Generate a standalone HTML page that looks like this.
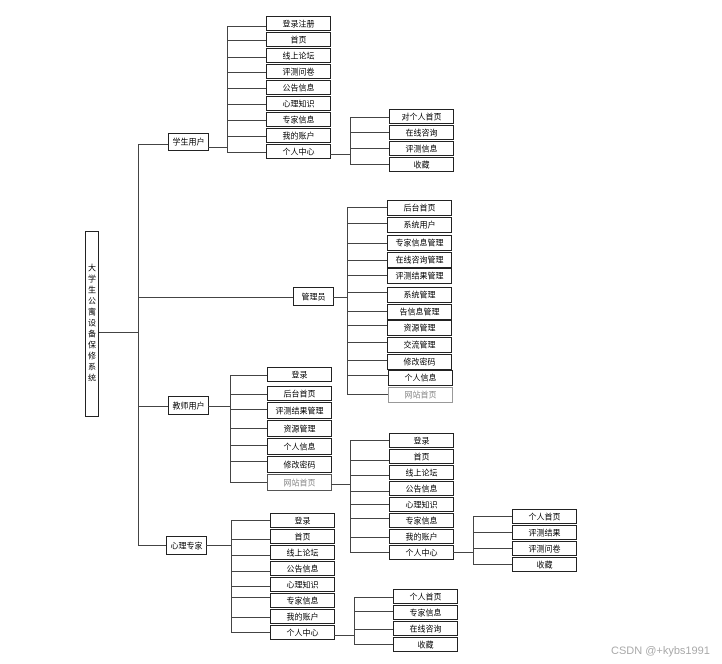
<!DOCTYPE html>
<html><head><meta charset="utf-8"><style>
html,body{margin:0;padding:0;background:#fff;}
svg{display:block;}
text{font-family:"Liberation Sans","Noto Sans CJK SC",sans-serif;font-size:8px;fill:#000;text-anchor:middle;dominant-baseline:central;}
rect{fill:#fff;stroke:#222;stroke-width:1;}
line,polyline{stroke:#444;stroke-width:1;fill:none;}
.g{fill:#888;}
.wm{font-size:11px;fill:#aaa;text-anchor:start;}
</style></head><body>
<svg width="722" height="664" viewBox="0 0 722 664" xmlns="http://www.w3.org/2000/svg">
<!-- root -->
<rect x="85.5" y="231.5" width="13" height="185"/>
<g>
<text x="92" y="268">大</text><text x="92" y="279">学</text><text x="92" y="290">生</text><text x="92" y="301">公</text><text x="92" y="312">寓</text><text x="92" y="323">设</text><text x="92" y="334">备</text><text x="92" y="345">保</text><text x="92" y="356">修</text><text x="92" y="367">系</text><text x="92" y="378">统</text>
</g>
<line x1="99" y1="332.5" x2="138" y2="332.5"/>
<line x1="138.5" y1="144" x2="138.5" y2="545"/>
<line x1="138" y1="144.5" x2="168" y2="144.5"/>
<line x1="138" y1="297.5" x2="293" y2="297.5"/>
<line x1="138" y1="406.5" x2="168" y2="406.5"/>
<line x1="138" y1="545.5" x2="166" y2="545.5"/>

<!-- student -->
<rect x="168.5" y="133.5" width="40" height="17"/><text x="188.5" y="142">学生用户</text>
<line x1="208" y1="147.5" x2="227" y2="147.5"/>
<line x1="227.5" y1="26" x2="227.5" y2="153"/>
<g>
<line x1="227" y1="26.5" x2="266" y2="26.5"/><line x1="227" y1="40.5" x2="266" y2="40.5"/><line x1="227" y1="57.5" x2="266" y2="57.5"/><line x1="227" y1="72.5" x2="266" y2="72.5"/><line x1="227" y1="88.5" x2="266" y2="88.5"/><line x1="227" y1="104.5" x2="266" y2="104.5"/><line x1="227" y1="120.5" x2="266" y2="120.5"/><line x1="227" y1="136.5" x2="266" y2="136.5"/><line x1="227" y1="152.5" x2="266" y2="152.5"/>
</g>
<rect x="266.5" y="16.5" width="64" height="14"/><text x="298.5" y="24">登录注册</text>
<rect x="266.5" y="32.5" width="64" height="14"/><text x="298.5" y="40">首页</text>
<rect x="266.5" y="48.5" width="64" height="14"/><text x="298.5" y="56">线上论坛</text>
<rect x="266.5" y="64.5" width="64" height="14"/><text x="298.5" y="72">评测问卷</text>
<rect x="266.5" y="80.5" width="64" height="14"/><text x="298.5" y="88">公告信息</text>
<rect x="266.5" y="96.5" width="64" height="14"/><text x="298.5" y="104">心理知识</text>
<rect x="266.5" y="112.5" width="64" height="14"/><text x="298.5" y="120">专家信息</text>
<rect x="266.5" y="128.5" width="64" height="14"/><text x="298.5" y="136">我的账户</text>
<rect x="266.5" y="144.5" width="64" height="14"/><text x="298.5" y="152">个人中心</text>
<line x1="330" y1="154.5" x2="350" y2="154.5"/>
<line x1="350.5" y1="117" x2="350.5" y2="165"/>
<line x1="350" y1="117.5" x2="389" y2="117.5"/><line x1="350" y1="132.5" x2="389" y2="132.5"/><line x1="350" y1="148.5" x2="389" y2="148.5"/><line x1="350" y1="164.5" x2="389" y2="164.5"/>
<rect x="389.5" y="109.5" width="64" height="14"/><text x="421.5" y="117">对个人首页</text>
<rect x="389.5" y="125.5" width="64" height="14"/><text x="421.5" y="133">在线咨询</text>
<rect x="389.5" y="141.5" width="64" height="14"/><text x="421.5" y="149">评测信息</text>
<rect x="389.5" y="157.5" width="64" height="14"/><text x="421.5" y="165">收藏</text>

<!-- admin -->
<rect x="293.5" y="287.5" width="40" height="18"/><text x="313.5" y="297">管理员</text>
<line x1="333" y1="297.5" x2="347" y2="297.5"/>
<line x1="347.5" y1="207" x2="347.5" y2="395"/>
<g>
<line x1="347" y1="207.5" x2="387" y2="207.5"/><line x1="347" y1="223.5" x2="387" y2="223.5"/><line x1="347" y1="243.5" x2="387" y2="243.5"/><line x1="347" y1="260.5" x2="387" y2="260.5"/><line x1="347" y1="275.5" x2="387" y2="275.5"/><line x1="347" y1="292.5" x2="387" y2="292.5"/><line x1="347" y1="311.5" x2="387" y2="311.5"/><line x1="347" y1="325.5" x2="387" y2="325.5"/><line x1="347" y1="342.5" x2="387" y2="342.5"/><line x1="347" y1="360.5" x2="387" y2="360.5"/><line x1="347" y1="375.5" x2="388" y2="375.5"/><line x1="347" y1="394.5" x2="388" y2="394.5"/>
</g>
<rect x="387.5" y="200.5" width="64" height="15"/><text x="419.5" y="208">后台首页</text>
<rect x="387.5" y="217.5" width="64" height="15"/><text x="419.5" y="225">系统用户</text>
<rect x="387.5" y="235.5" width="64" height="15"/><text x="419.5" y="243">专家信息管理</text>
<rect x="387.5" y="252.5" width="64" height="15"/><text x="419.5" y="260">在线咨询管理</text>
<rect x="387.5" y="268.5" width="64" height="15"/><text x="419.5" y="276">评测结果管理</text>
<rect x="387.5" y="287.5" width="64" height="15"/><text x="419.5" y="295">系统管理</text>
<rect x="387.5" y="304.5" width="64" height="15"/><text x="419.5" y="312">告信息管理</text>
<rect x="387.5" y="320.5" width="64" height="15"/><text x="419.5" y="328">资源管理</text>
<rect x="387.5" y="337.5" width="64" height="15"/><text x="419.5" y="345">交流管理</text>
<rect x="387.5" y="354.5" width="64" height="15"/><text x="419.5" y="362">修改密码</text>
<rect x="388.5" y="370.5" width="64" height="15"/><text x="420.5" y="378">个人信息</text>
<rect x="388.5" y="387.5" width="64" height="15" style="stroke:#999"/><text class="g" x="420.5" y="395">网站首页</text>

<!-- teacher -->
<rect x="168.5" y="396.5" width="40" height="18"/><text x="188.5" y="406">教师用户</text>
<line x1="208" y1="406.5" x2="230" y2="406.5"/>
<line x1="230.5" y1="375" x2="230.5" y2="483"/>
<g>
<line x1="230" y1="375.5" x2="267" y2="375.5"/><line x1="230" y1="394.5" x2="267" y2="394.5"/><line x1="230" y1="409.5" x2="267" y2="409.5"/><line x1="230" y1="428.5" x2="267" y2="428.5"/><line x1="230" y1="445.5" x2="267" y2="445.5"/><line x1="230" y1="461.5" x2="267" y2="461.5"/><line x1="230" y1="482.5" x2="267" y2="482.5"/>
</g>
<rect x="267.5" y="367.5" width="64" height="14"/><text x="299.5" y="375">登录</text>
<rect x="267.5" y="386.5" width="64" height="14"/><text x="299.5" y="394">后台首页</text>
<rect x="267.5" y="402.5" width="64" height="16"/><text x="299.5" y="411">评测结果管理</text>
<rect x="267.5" y="420.5" width="64" height="16"/><text x="299.5" y="429">资源管理</text>
<rect x="267.5" y="438.5" width="64" height="16"/><text x="299.5" y="447">个人信息</text>
<rect x="267.5" y="456.5" width="64" height="16"/><text x="299.5" y="465">修改密码</text>
<rect x="267.5" y="474.5" width="64" height="16" style="stroke:#555"/><text class="g" x="299.5" y="483">网站首页</text>
<line x1="331" y1="484.5" x2="350" y2="484.5"/>
<line x1="350.5" y1="440" x2="350.5" y2="553"/>
<g>
<line x1="350" y1="440.5" x2="389" y2="440.5"/><line x1="350" y1="460.5" x2="389" y2="460.5"/><line x1="350" y1="475.5" x2="389" y2="475.5"/><line x1="350" y1="491.5" x2="389" y2="491.5"/><line x1="350" y1="504.5" x2="389" y2="504.5"/><line x1="350" y1="518.5" x2="389" y2="518.5"/><line x1="350" y1="537.5" x2="389" y2="537.5"/><line x1="350" y1="552.5" x2="389" y2="552.5"/>
</g>
<rect x="389.5" y="433.5" width="64" height="14"/><text x="421.5" y="441">登录</text>
<rect x="389.5" y="449.5" width="64" height="14"/><text x="421.5" y="457">首页</text>
<rect x="389.5" y="465.5" width="64" height="14"/><text x="421.5" y="473">线上论坛</text>
<rect x="389.5" y="481.5" width="64" height="14"/><text x="421.5" y="489">公告信息</text>
<rect x="389.5" y="497.5" width="64" height="14"/><text x="421.5" y="505">心理知识</text>
<rect x="389.5" y="513.5" width="64" height="14"/><text x="421.5" y="521">专家信息</text>
<rect x="389.5" y="529.5" width="64" height="14"/><text x="421.5" y="537">我的账户</text>
<rect x="389.5" y="545.5" width="64" height="14"/><text x="421.5" y="553">个人中心</text>
<line x1="453" y1="552.5" x2="473" y2="552.5"/>
<line x1="473.5" y1="516" x2="473.5" y2="565"/>
<line x1="473" y1="516.5" x2="512" y2="516.5"/><line x1="473" y1="532.5" x2="512" y2="532.5"/><line x1="473" y1="548.5" x2="512" y2="548.5"/><line x1="473" y1="564.5" x2="512" y2="564.5"/>
<rect x="512.5" y="509.5" width="64" height="14"/><text x="544.5" y="517">个人首页</text>
<rect x="512.5" y="525.5" width="64" height="14"/><text x="544.5" y="533">评测结果</text>
<rect x="512.5" y="541.5" width="64" height="14"/><text x="544.5" y="549">评测问卷</text>
<rect x="512.5" y="557.5" width="64" height="14"/><text x="544.5" y="565">收藏</text>

<!-- expert -->
<rect x="166.5" y="536.5" width="40" height="18"/><text x="186.5" y="546">心理专家</text>
<line x1="206" y1="545.5" x2="231" y2="545.5"/>
<line x1="231.5" y1="520" x2="231.5" y2="633"/>
<g>
<line x1="231" y1="520.5" x2="270" y2="520.5"/><line x1="231" y1="539.5" x2="270" y2="539.5"/><line x1="231" y1="555.5" x2="270" y2="555.5"/><line x1="231" y1="571.5" x2="270" y2="571.5"/><line x1="231" y1="586.5" x2="270" y2="586.5"/><line x1="231" y1="597.5" x2="270" y2="597.5"/><line x1="231" y1="617.5" x2="270" y2="617.5"/><line x1="231" y1="632.5" x2="270" y2="632.5"/>
</g>
<rect x="270.5" y="513.5" width="64" height="14"/><text x="302.5" y="521">登录</text>
<rect x="270.5" y="529.5" width="64" height="14"/><text x="302.5" y="537">首页</text>
<rect x="270.5" y="545.5" width="64" height="14"/><text x="302.5" y="553">线上论坛</text>
<rect x="270.5" y="561.5" width="64" height="14"/><text x="302.5" y="569">公告信息</text>
<rect x="270.5" y="577.5" width="64" height="14"/><text x="302.5" y="585">心理知识</text>
<rect x="270.5" y="593.5" width="64" height="14"/><text x="302.5" y="601">专家信息</text>
<rect x="270.5" y="609.5" width="64" height="14"/><text x="302.5" y="617">我的账户</text>
<rect x="270.5" y="625.5" width="64" height="14"/><text x="302.5" y="633">个人中心</text>
<line x1="334" y1="635.5" x2="354" y2="635.5"/>
<line x1="354.5" y1="597" x2="354.5" y2="645"/>
<line x1="354" y1="597.5" x2="393" y2="597.5"/><line x1="354" y1="611.5" x2="393" y2="611.5"/><line x1="354" y1="629.5" x2="393" y2="629.5"/><line x1="354" y1="644.5" x2="393" y2="644.5"/>
<rect x="393.5" y="589.5" width="64" height="14"/><text x="425.5" y="597">个人首页</text>
<rect x="393.5" y="605.5" width="64" height="14"/><text x="425.5" y="613">专家信息</text>
<rect x="393.5" y="621.5" width="64" height="14"/><text x="425.5" y="629">在线咨询</text>
<rect x="393.5" y="637.5" width="64" height="14"/><text x="425.5" y="645">收藏</text>

<text class="wm" x="611" y="651">CSDN @+kybs1991</text>
</svg>
</body></html>
